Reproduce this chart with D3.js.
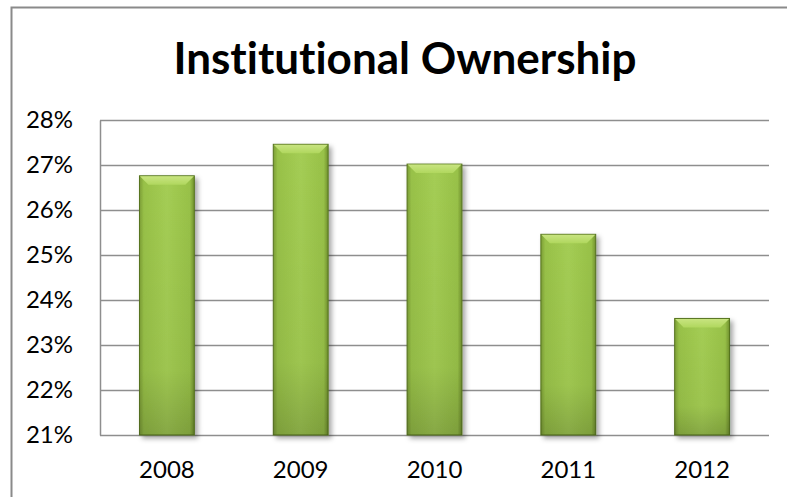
<!DOCTYPE html>
<html>
<head>
<meta charset="utf-8">
<script src="https://cdn.jsdelivr.net/npm/d3@7"></script>
<style>
	body { margin: 0; background: #fff; }
	svg { display: block; }
	text { font-family: Lato, "Open Sans", sans-serif; fill: #000; font-variant-ligatures: none; }
</style>
</head>
<body>
<div id="chart"></div>
<script>
const years = ['2008', '2009', '2010', '2011', '2012'];
const ownership = [0.2676, 0.2746, 0.2702, 0.2546, 0.2359];
const yTicks = [0.21, 0.22, 0.23, 0.24, 0.25, 0.26, 0.27, 0.28];
const chartTitle = 'Institutional Ownership';

const widthSvg = 787;
const heightSvg = 497;
const margin = {top: 120, right: 18, bottom: 62, left: 100};

const svg = d3.select('#chart').append('svg')
	.attr('width', widthSvg)
	.attr('height', heightSvg);

const defs = svg.append('defs');

// body: darker at the sides, lighter toward the middle
const bodyGrad = defs.append('linearGradient')
	.attr('id', 'barBody')
	.attr('x1', '0').attr('x2', '1').attr('y1', '0').attr('y2', '0');
bodyGrad.append('stop').attr('offset', '0%').attr('stop-color', '#7c9e36');
bodyGrad.append('stop').attr('offset', '8%').attr('stop-color', '#98c148');
bodyGrad.append('stop').attr('offset', '50%').attr('stop-color', '#a4cd54');
bodyGrad.append('stop').attr('offset', '92%').attr('stop-color', '#98c148');
bodyGrad.append('stop').attr('offset', '100%').attr('stop-color', '#71912e');

const shadeGrad = defs.append('linearGradient')
	.attr('id', 'barShade')
	.attr('x1', '0').attr('x2', '0').attr('y1', '0').attr('y2', '1');
shadeGrad.append('stop').attr('offset', '0%').attr('stop-color', '#000').attr('stop-opacity', 0);
shadeGrad.append('stop').attr('offset', '75%').attr('stop-color', '#000').attr('stop-opacity', 0.04);
shadeGrad.append('stop').attr('offset', '100%').attr('stop-color', '#000').attr('stop-opacity', 0.18);

const bevelGrad = defs.append('linearGradient')
	.attr('id', 'barBevel')
	.attr('x1', '0').attr('x2', '0').attr('y1', '0').attr('y2', '1');
bevelGrad.append('stop').attr('offset', '0%').attr('stop-color', '#c8e480');
bevelGrad.append('stop').attr('offset', '100%').attr('stop-color', '#b0d75e');

const shadow = defs.append('filter')
	.attr('id', 'barShadow')
	.attr('x', '-20%').attr('y', '-10%').attr('width', '150%').attr('height', '130%');
shadow.append('feDropShadow')
	.attr('dx', 3).attr('dy', 3)
	.attr('stdDeviation', 2.5)
	.attr('flood-color', '#000')
	.attr('flood-opacity', 0.35);

// outer chart border (runs off the right and bottom of the picture)
svg.append('rect')
	.attr('x', 11.5).attr('y', 7.5)
	.attr('width', widthSvg + 20).attr('height', heightSvg + 20)
	.attr('fill', 'none')
	.attr('stroke', '#8a8a8a')
	.attr('stroke-width', 2);

svg.append('text')
	.attr('x', 405)
	.attr('y', 74)
	.attr('text-anchor', 'middle')
	.style('font-size', '44px')
	.style('font-weight', 'bold')
	.text(chartTitle);

const xScale = d3.scaleBand()
	.domain(years)
	.range([margin.left, widthSvg - margin.right])
	.paddingInner(0.59)
	.paddingOuter(0.295);

const yScale = d3.scaleLinear()
	.domain([d3.min(yTicks), d3.max(yTicks)])
	.range([heightSvg - margin.bottom, margin.top]);

const plotWidth = widthSvg - margin.right - margin.left;

const yAxis = d3.axisLeft(yScale)
	.tickValues(yTicks)
	.tickSize(-plotWidth)
	.tickSizeOuter(0)
	.tickPadding(27)
	.tickFormat(d3.format('.0%'));

const yG = svg.append('g')
	.attr('transform', `translate(${margin.left},0)`)
	.call(yAxis);
yG.selectAll('.tick line')
	.attr('stroke', '#8e8e8e')
	.attr('stroke-width', 1.5);
yG.select('.domain')
	.attr('stroke', '#8e8e8e')
	.attr('stroke-width', 1.5);
yG.selectAll('text')
	.style('font-size', '24px')
	.style('font-family', 'Lato, "Open Sans", sans-serif');

const xAxis = d3.axisBottom(xScale)
	.tickSize(0)
	.tickPadding(26);

const xG = svg.append('g')
	.attr('transform', `translate(0,${heightSvg - margin.bottom})`)
	.call(xAxis);
xG.select('.domain').remove();
xG.selectAll('text')
	.style('font-size', '24px')
	.style('font-family', 'Lato, "Open Sans", sans-serif');

const bw = xScale.bandwidth();
const bevel = 9;
const base = yScale(d3.min(yTicks));

const bars = svg.append('g')
	.selectAll('g')
	.data(ownership)
	.enter().append('g')
	.attr('filter', 'url(#barShadow)');

bars.append('rect')
	.attr('x', (d, i) => xScale(years[i]))
	.attr('y', d => yScale(d))
	.attr('width', bw)
	.attr('height', d => base - yScale(d))
	.attr('fill', 'url(#barBody)')
	.attr('stroke', '#56741f')
	.attr('stroke-width', 1);

bars.append('rect')
	.attr('x', (d, i) => xScale(years[i]))
	.attr('y', d => yScale(d))
	.attr('width', bw)
	.attr('height', d => base - yScale(d))
	.attr('fill', 'url(#barShade)');

bars.append('polygon')
	.attr('points', (d, i) => {
		const x0 = xScale(years[i]);
		const y0 = yScale(d);
		return [
			[x0 + 0.5, y0 + 0.5],
			[x0 + bw - 0.5, y0 + 0.5],
			[x0 + bw - bevel, y0 + bevel],
			[x0 + bevel, y0 + bevel]
		].join(' ');
	})
	.attr('fill', 'url(#barBevel)');
</script>
</body>
</html>
